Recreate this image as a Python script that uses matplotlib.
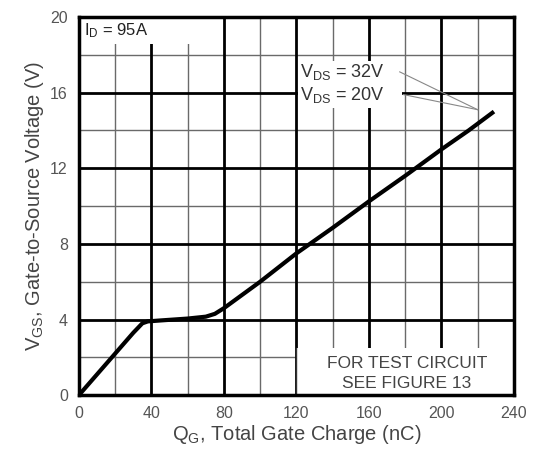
import matplotlib.pyplot as plt
import matplotlib.patches as patches

plt.rcParams['font.family'] = ['Liberation Sans', 'DejaVu Sans']
plt.rcParams['mathtext.fontset'] = 'custom'
plt.rcParams['mathtext.rm'] = 'Liberation Sans'
plt.rcParams['mathtext.it'] = 'Liberation Sans'

# Gate charge curve (same for both VDS values)
qg = [0, 10, 20, 30, 35, 38, 45, 60, 70, 75, 80, 90, 100, 120, 140, 160, 180, 200, 215, 229]
vgs = [0, 1.1, 2.2, 3.3, 3.8, 3.9, 3.95, 4.05, 4.15, 4.3, 4.6, 5.3, 6.0, 7.5, 8.85, 10.25, 11.6, 13.0, 14.0, 15.0]

x_ticks = [0, 40, 80, 120, 160, 200, 240]
y_ticks = [0, 4, 8, 12, 16, 20]
x_minor = [20, 60, 100, 140, 180, 220]
y_minor = [2, 6, 10, 14, 18]

fig = plt.figure(figsize=(5.37, 4.49), dpi=100)
ax = fig.add_axes([0.147, 0.120, 0.810, 0.842])
ax.set_xlim(0, 240)
ax.set_ylim(0, 20)

# grid
for x in x_minor:
    ax.axvline(x, color='#6a6a6a', lw=1.0, zorder=1)
for y in y_minor:
    ax.axhline(y, color='#6a6a6a', lw=1.0, zorder=1)
for x in x_ticks[1:-1]:
    ax.axvline(x, color='black', lw=2.0, zorder=1.5)
for y in y_ticks[1:-1]:
    ax.axhline(y, color='black', lw=2.0, zorder=1.5)

# white boxes behind texts
ax.add_patch(patches.Rectangle((0, 18.6), 75, 1.4, facecolor='white', edgecolor='none', zorder=2))
ax.add_patch(patches.Rectangle((121, 15.2), 57, 2.5, facecolor='white', edgecolor='none', zorder=2))
ax.add_patch(patches.Rectangle((120, 0), 120, 2.5, facecolor='white', edgecolor='none', zorder=2))
ax.plot([120, 120], [0, 2.5], color='#333333', lw=1.0, zorder=2.5)

ax.plot(qg, vgs, color='black', lw=3.0, zorder=4, solid_capstyle='butt')

ax.text(3, 19.3, 'I$_D$ = 95A', fontsize=12, color='#222222', va='center', zorder=3)
ax.text(122, 17.1, 'V$_{DS}$ = 32V', fontsize=13, color='#333333', va='center', zorder=3)
ax.text(122, 15.9, 'V$_{DS}$ = 20V', fontsize=13, color='#333333', va='center', zorder=3)
ax.plot([177, 220], [17.1, 15.1], color='#888888', lw=0.8, zorder=3)
ax.plot([179, 220], [15.9, 15.1], color='#888888', lw=0.8, zorder=3)
ax.text(181, 1.65, 'FOR TEST CIRCUIT', fontsize=12.5, color='#444444', ha='center', va='center', zorder=3)
ax.text(181, 0.6, 'SEE FIGURE 13', fontsize=12.5, color='#444444', ha='center', va='center', zorder=3)

ax.set_xticks(x_ticks)
ax.set_yticks(y_ticks)
ax.tick_params(length=0, labelsize=11.5, labelcolor='#555555', pad=8)
for s in ax.spines.values():
    s.set_linewidth(2.5)
    s.set_zorder(5)

ax.set_xlabel('Q$_G$, Total Gate Charge (nC)', fontsize=14.5, color='#444444', labelpad=1)
ax.set_ylabel('V$_{GS}$, Gate-to-Source Voltage (V)', fontsize=14.5, color='#444444', labelpad=3)

fig.savefig('out.png', dpi=100)
